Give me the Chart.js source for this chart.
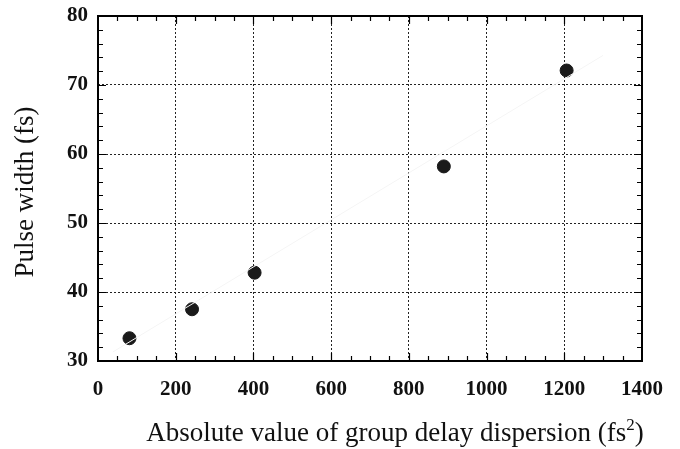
<!DOCTYPE html>
<html>
<head>
<meta charset="utf-8">
<script src="https://cdn.jsdelivr.net/npm/chart.js@4"></script>
<style>
  html, body { margin: 0; padding: 0; background: #fff; }
  #wrap { width: 680px; height: 449px; }
</style>
</head>
<body>
<div id="wrap"><canvas id="gddChart" width="680" height="449"></canvas></div>
<script>
const gddValues = [81, 242, 403, 890, 1206];
const pulseWidths = [33.3, 37.5, 42.8, 58.2, 72.1];
const fitX = [38, 1300];
const fitY = [31.3, 74.3];
const xTicks = [0, 200, 400, 600, 800, 1000, 1200, 1400];
const yTicks = [30, 40, 50, 60, 70, 80];

const serif = "'Liberation Serif', 'Times New Roman', serif";

// frame, inward ticks and axis titles
const framePlugin = {
  id: "frame",
  afterDraw(chart) {
    const ctx = chart.ctx;
    const a = chart.chartArea;
    const xs = chart.scales.x, ys = chart.scales.y;
    ctx.save();
    ctx.strokeStyle = "#000";
    ctx.lineWidth = 1.2;
    for (let v = 50; v < 1400; v += 50) {
      const px = Math.round(xs.getPixelForValue(v)) + 0.5;
      const len = v % 200 === 0 ? 8 : 5;
      ctx.beginPath();
      ctx.moveTo(px, a.bottom); ctx.lineTo(px, a.bottom - len);
      ctx.moveTo(px, a.top); ctx.lineTo(px, a.top + len);
      ctx.stroke();
    }
    for (let v = 32; v < 80; v += 2) {
      const py = Math.round(ys.getPixelForValue(v)) + 0.5;
      const len = v % 10 === 0 ? 8 : 5;
      ctx.beginPath();
      ctx.moveTo(a.left, py); ctx.lineTo(a.left + len, py);
      ctx.moveTo(a.right, py); ctx.lineTo(a.right - len, py);
      ctx.stroke();
    }
    ctx.lineWidth = 2;
    ctx.strokeRect(a.left, a.top, a.right - a.left, a.bottom - a.top);

    ctx.fillStyle = "#111";
    ctx.font = "27px " + serif;
    ctx.textBaseline = "alphabetic";
    const main = "Absolute value of group delay dispersion (fs";
    const w1 = ctx.measureText(main).width;
    ctx.font = "17px " + serif;
    const w2 = ctx.measureText("2").width;
    ctx.font = "27px " + serif;
    const w3 = ctx.measureText(")").width;
    let x0 = 395 - (w1 + w2 + w3) / 2;
    const base = 441;
    ctx.fillText(main, x0, base);
    ctx.font = "17px " + serif;
    ctx.fillText("2", x0 + w1, base - 11);
    ctx.font = "27px " + serif;
    ctx.fillText(")", x0 + w1 + w2, base);

    ctx.translate(33, 192);
    ctx.rotate(-Math.PI / 2);
    ctx.textAlign = "center";
    ctx.fillText("Pulse width (fs)", 0, 0);
    ctx.restore();
  }
};

new Chart(document.getElementById("gddChart").getContext("2d"), {
  type: "scatter",
  data: {
    datasets: [
      {
        label: "fit",
        data: fitX.map((x, i) => ({ x: x, y: fitY[i] })),
        showLine: true,
        borderColor: "#f5f5f5",
        borderWidth: 1,
        pointRadius: 0
      },
      {
        label: "Pulse width",
        data: gddValues.map((x, i) => ({ x: x, y: pulseWidths[i] })),
        backgroundColor: "#1a1a1a",
        borderColor: "#1a1a1a",
        pointRadius: 6.5,
        pointHoverRadius: 6.5
      }
    ]
  },
  options: {
    responsive: false,
    animation: false,
    layout: { padding: { top: 16, right: 38, left: 0, bottom: 0 } },
    plugins: { legend: { display: false }, tooltip: { enabled: false } },
    scales: {
      x: {
        type: "linear",
        min: 0,
        max: 1400,
        afterBuildTicks: s => { s.ticks = xTicks.map(v => ({ value: v })); },
        afterFit: s => { s.height = 88; s.paddingLeft = 0; s.paddingRight = 0; },
        grid: { color: "#222", lineWidth: 1, drawTicks: false },
        border: { display: false, dash: [2, 2] },
        ticks: { color: "#111", padding: 18, font: { family: serif, size: 21, weight: "bold", lineHeight: 1 }, callback: v => String(v) }
      },
      y: {
        type: "linear",
        min: 30,
        max: 80,
        afterBuildTicks: s => { s.ticks = yTicks.map(v => ({ value: v })); },
        afterFit: s => { s.width = 98; s.paddingTop = 0; s.paddingBottom = 0; },
        grid: { color: "#222", lineWidth: 1, drawTicks: false },
        border: { display: false, dash: [2, 2] },
        ticks: { color: "#111", padding: 10, font: { family: serif, size: 21, weight: "bold", lineHeight: 1 }, callback: v => String(v) }
      }
    }
  },
  plugins: [framePlugin]
});
</script>
</body>
</html>
